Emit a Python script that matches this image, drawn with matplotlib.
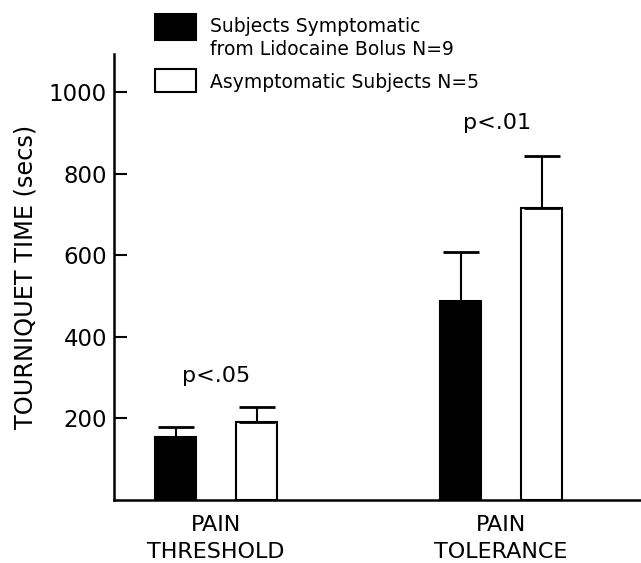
import matplotlib
matplotlib.use("Agg")
import matplotlib.pyplot as plt
from matplotlib.patches import Rectangle
import numpy as np

categories = ["PAIN\nTHRESHOLD", "PAIN\nTOLERANCE"]
symptomatic = [155, 488]
symptomatic_err = [25, 121]
asymptomatic = [191, 717]
asymptomatic_err = [37, 127]
p_labels = ["p<.05", "p<.01"]
yticks = [200, 400, 600, 800, 1000]
legend_labels = ["Subjects Symptomatic\nfrom Lidocaine Bolus N=9", "Asymptomatic Subjects N=5"]

W, H = 641, 563
fig = plt.figure(figsize=(W / 100, H / 100), dpi=100)
ax = fig.add_axes([114 / W, (H - 500) / H, (W - 114) / W, (500 - 54) / H])

x = np.arange(len(categories))
off = 0.142
bw = 0.144
ax.bar(x - off, symptomatic, width=bw, color="black", edgecolor="black", linewidth=1.5)
ax.bar(x + off, asymptomatic, width=bw, color="white", edgecolor="black", linewidth=1.5)
ax.errorbar(x - off, symptomatic, yerr=[np.zeros(2), symptomatic_err], fmt="none",
            ecolor="black", elinewidth=1.5, capsize=13, capthick=2)
ax.errorbar(x + off, asymptomatic, yerr=[np.zeros(2), asymptomatic_err], fmt="none",
            ecolor="black", elinewidth=1.5, capsize=13, capthick=2)

p_text_pos = [(x[0], 304), (x[1] - 0.015, 925)]
for lab, (xx, yy) in zip(p_labels, p_text_pos):
    ax.text(xx, yy, lab, ha="center", va="center", fontsize=16)

ax.set_xlim(-0.358, 1.491)
ax.set_ylim(0, 1094)
ax.set_yticks(yticks)
ax.set_yticklabels([str(t) for t in yticks], fontsize=16.5)
ax.set_xticks(x)
ax.set_xticklabels(categories, fontsize=16, linespacing=1.45)
ax.tick_params(axis="x", length=0, pad=11)
ax.tick_params(axis="y", direction="in", length=9.5, width=1.5, pad=5)
for s in ["top", "right"]:
    ax.spines[s].set_visible(False)
for s in ["left", "bottom"]:
    ax.spines[s].set_linewidth(1.8)
ax.set_ylabel("TOURNIQUET TIME (secs)", fontsize=17.3, labelpad=8)

# legend
def px_rect(x0, y0, x1, y1, fc):
    fig.patches.append(Rectangle((x0 / W, 1 - y1 / H), (x1 - x0) / W, (y1 - y0) / H,
                                 transform=fig.transFigure, facecolor=fc,
                                 edgecolor="black", linewidth=1.5))
px_rect(155, 14, 196, 40, "black")
px_rect(155, 69, 196, 92, "white")
fig.text(210 / W, 1 - 38 / H, legend_labels[0], fontsize=13.5, va="center", ha="left", linespacing=1.25)
fig.text(210 / W, 1 - 82 / H, legend_labels[1], fontsize=13.5, va="center", ha="left")

fig.savefig("out.png", dpi=100)
